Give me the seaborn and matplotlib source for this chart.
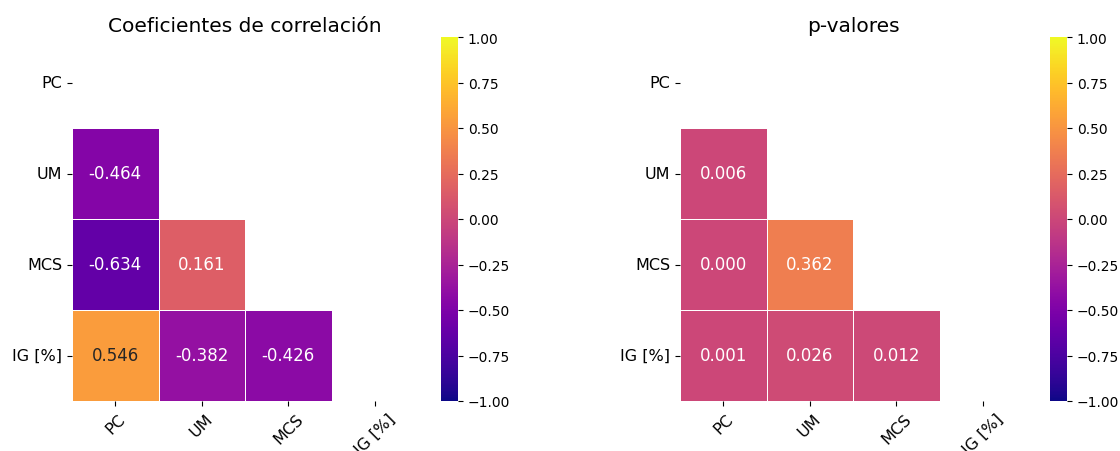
import numpy as np
import pandas as pd
import matplotlib
matplotlib.use("Agg")
import matplotlib.pyplot as plt
import seaborn as sns

variables = ["PC", "UM", "MCS", "IG [%]"]

# Lower-triangle values (row, column) of the correlation matrix
corr_pairs = [("UM", "PC", -0.464),
              ("MCS", "PC", -0.634), ("MCS", "UM", 0.161),
              ("IG [%]", "PC", 0.546), ("IG [%]", "UM", -0.382), ("IG [%]", "MCS", -0.426)]
# Matching p-values
pval_pairs = [("UM", "PC", 0.006),
              ("MCS", "PC", 0.000), ("MCS", "UM", 0.362),
              ("IG [%]", "PC", 0.001), ("IG [%]", "UM", 0.026), ("IG [%]", "MCS", 0.012)]


def full_matrix(pairs, diag):
    m = pd.DataFrame(np.eye(len(variables)) * diag, index=variables, columns=variables)
    for r, c, v in pairs:
        m.loc[r, c] = v
        m.loc[c, r] = v
    return m


corr = full_matrix(corr_pairs, 1.0)
pvals = full_matrix(pval_pairs, 0.0)
mask = np.triu(np.ones_like(corr, dtype=bool))

W, H = 1120, 452
fig = plt.figure(figsize=(W / 100, H / 100), dpi=100)


def panel(x0, cbx0, data, title):
    ax = fig.add_axes([x0 / W, 50 / H, 346 / W, 364 / H])
    cax = fig.add_axes([cbx0 / W, 50 / H, 17 / W, 364 / H])
    sns.heatmap(data, mask=mask, cmap="plasma", vmin=-1, vmax=1, annot=True,
                fmt=".3f", linewidths=0.5, linecolor="white", ax=ax, cbar_ax=cax,
                annot_kws={"fontsize": 12})
    ax.set_title(title, fontsize=14.5, pad=4)
    ax.set_xticklabels(ax.get_xticklabels(), rotation=45, fontsize=11.5)
    ax.set_yticklabels(ax.get_yticklabels(), rotation=0, fontsize=11.5)
    cax.tick_params(labelsize=10)
    return ax


panel(72, 441, corr, "Coeficientes de correlación")
panel(680, 1050, pvals, "p-valores")

fig.savefig("out.png", dpi=100)
